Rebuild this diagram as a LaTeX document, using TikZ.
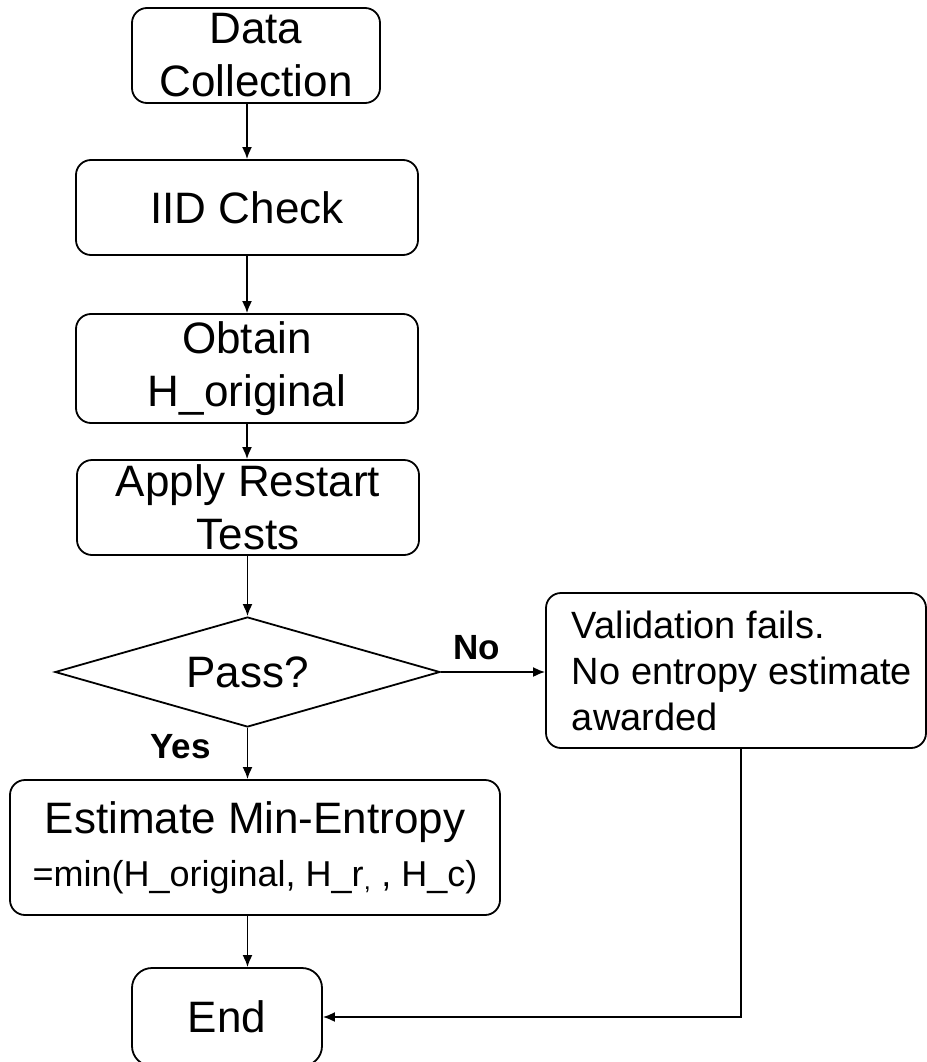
\documentclass[tikz,border=0pt]{standalone}
\usepackage{fontspec}
\setmainfont{Liberation Sans}
\usetikzlibrary{arrows.meta,shapes.geometric}

\tikzset{
  box/.style={draw, line width=1.8pt, rounded corners=15pt, inner sep=0pt,
    align=center, font=\fontsize{44pt}{53pt}\selectfont},
  decision/.style={draw, diamond, line width=1.8pt, aspect=3.5, inner sep=0pt,
    font=\fontsize{44pt}{53pt}\selectfont},
  flow/.style={line width=1.8pt, -{Latex[length=12pt,width=10pt]}},
  answer/.style={font=\bfseries\fontsize{35pt}{42pt}\selectfont, inner sep=0pt, anchor=base west}
}

\begin{document}
\begin{tikzpicture}[x=1pt,y=1pt]
  \useasboundingbox (0,0) rectangle (926,-1062);

  % process steps
  \node[box, minimum width=248pt, minimum height=95pt] (data) at (256,-55.5) {Data\\Collection};
  \node[box, minimum width=342pt, minimum height=95pt] (iid) at (247,-207.5) {IID Check};
  \node[box, minimum width=342pt, minimum height=109pt] (obtain) at (247,-368.5) {Obtain\\H\_original};
  \node[box, minimum width=342pt, minimum height=95pt] (restart) at (248,-507.5) {Apply Restart\\Tests};

  % decision
  \node[decision, minimum width=385pt, minimum height=110pt] (pass) at (247.5,-672) {Pass?};

  % failure branch
  \node[box, minimum width=380pt, minimum height=155pt, align=left,
        font=\fontsize{38pt}{46pt}\selectfont] (fail) at (736,-670.5)
        {\hspace*{12pt}Validation fails.\\\hspace*{12pt}No entropy estimate\\\hspace*{12pt}awarded};

  % estimate
  \node[box, minimum width=490pt, minimum height=135pt] (estimate) at (255,-847.5)
        {Estimate Min-Entropy\\{\fontsize{36pt}{53pt}\selectfont =min(H\_original, H\_r\textsubscript{,} , H\_c)}};

  % terminal
  \node[box, rounded corners=20pt, minimum width=190pt, minimum height=98pt] (end) at (227,-1017) {End};

  % branch labels
  \node[answer] (no) at (453,-659) {No};
  \node[answer] (yes) at (150,-758) {Yes};

  % connectors
  \draw[flow] (iid.north |- data.south) -- (iid.north);
  \draw[flow] (iid.south) -- (obtain.north);
  \draw[flow] (obtain.south) -- (obtain.south |- restart.north);
  \draw[flow] (pass.north |- restart.south) -- (pass.north);
  \draw[flow] (pass.east) -- (pass.east -| fail.west);
  \draw[flow] (pass.south) -- (pass.south |- estimate.north);
  \draw[flow] (pass.south |- estimate.south) -- (pass.south |- end.north);
  \draw[flow] ([xshift=5pt]fail.south) |- (end.east);
\end{tikzpicture}
\end{document}
